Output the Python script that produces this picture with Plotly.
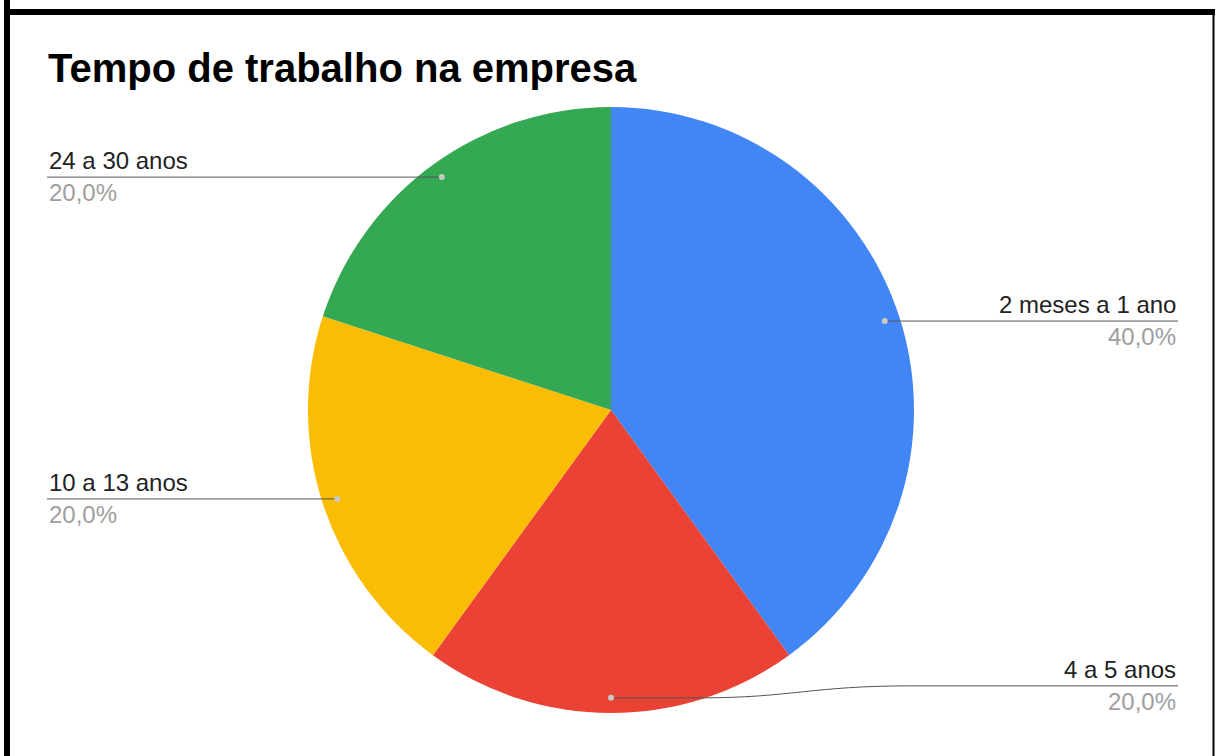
import math
import plotly.graph_objects as go

# Tempo de trabalho na empresa
categorias = ["2 meses a 1 ano", "4 a 5 anos", "10 a 13 anos", "24 a 30 anos"]
respostas = [2, 1, 1, 1]
cores = ["#4285F4", "#EA4335", "#FBBC04", "#34A853"]
titulo = "Tempo de trabalho na empresa"

W, H = 1217, 756
CX, CY, R = 611, 410, 303          # pie centre and radius in pixels
LEFT_X, RIGHT_X = 47, 1178         # label columns
FONT = "Arial, Liberation Sans, sans-serif"

fig = go.Figure()

fig.add_trace(go.Pie(
    labels=categorias,
    values=respostas,
    marker=dict(colors=cores, line=dict(width=0)),
    sort=False,
    direction="clockwise",
    rotation=0,
    textinfo="none",
    hoverinfo="label+percent",
    showlegend=False,
    domain=dict(x=[(CX - R) / W, (CX + R) / W],
                y=[1 - (CY + R) / H, 1 - (CY - R) / H]),
))

total = sum(respostas)
shapes = []
annotations = []
acum = 0.0
for nome, v in zip(categorias, respostas):
    frac = v / total
    mid = (acum + frac / 2) * 2 * math.pi
    acum += frac
    px = CX + 0.95 * R * math.sin(mid)
    py = CY - 0.95 * R * math.cos(mid)
    pct = f"{frac * 100:.1f}%".replace(".", ",")
    bottom = abs(math.sin(mid)) < 1e-6
    right = bottom or math.sin(mid) > 0
    if bottom:
        # bottom slice: leader bends up to the label column
        ly = py - 12
        path = (f"M {px},{py} L {px + 90},{py} "
                f"C {px + 180},{py} {px + 200},{ly} {px + 300},{ly} L {RIGHT_X},{ly}")
        shapes.append(dict(type="path", path=path, xref="x", yref="y",
                           line=dict(color="#555555", width=1)))
    else:
        ly = py
        x_end = RIGHT_X if right else LEFT_X
        shapes.append(dict(type="line", xref="x", yref="y",
                           x0=px, y0=ly, x1=x_end, y1=ly,
                           line=dict(color="#555555", width=1)))
    # small anchor dot on the slice
    shapes.append(dict(type="circle", xref="x", yref="y",
                       x0=px - 3, y0=py - 3, x1=px + 3, y1=py + 3,
                       fillcolor="#C9C9C9", line=dict(width=0)))
    ax = RIGHT_X if right else LEFT_X
    xa = "right" if right else "left"
    annotations.append(dict(x=ax, y=ly - 1, xref="x", yref="y", text=nome,
                            showarrow=False, xanchor=xa, yanchor="bottom",
                            font=dict(family=FONT, size=24, color="#222222")))
    annotations.append(dict(x=ax, y=ly + 0, xref="x", yref="y", text=pct,
                            showarrow=False, xanchor=xa, yanchor="top",
                            font=dict(family=FONT, size=24, color="#9E9E9E")))

annotations.append(dict(x=46, y=68, xref="x", yref="y", text=f"<b>{titulo}</b>",
                        showarrow=False, xanchor="left", yanchor="middle",
                        font=dict(family=FONT, size=40, color="#000000")))

# frame
shapes += [
    dict(type="line", xref="x", yref="y", x0=7, y0=0, x1=7, y1=H,
         line=dict(color="black", width=6)),
    dict(type="line", xref="x", yref="y", x0=4, y0=12, x1=1215, y1=12,
         line=dict(color="black", width=6)),
    dict(type="line", xref="x", yref="y", x0=1213.5, y0=9, x1=1213.5, y1=H,
         line=dict(color="black", width=2)),
]

fig.update_layout(
    width=W, height=H,
    margin=dict(l=0, r=0, t=0, b=0),
    paper_bgcolor="white", plot_bgcolor="rgba(0,0,0,0)",
    xaxis=dict(range=[0, W], visible=False, domain=[0, 1], fixedrange=True),
    yaxis=dict(range=[H, 0], visible=False, domain=[0, 1], fixedrange=True),
    shapes=shapes,
    annotations=annotations,
)

fig.write_html("out.html")
